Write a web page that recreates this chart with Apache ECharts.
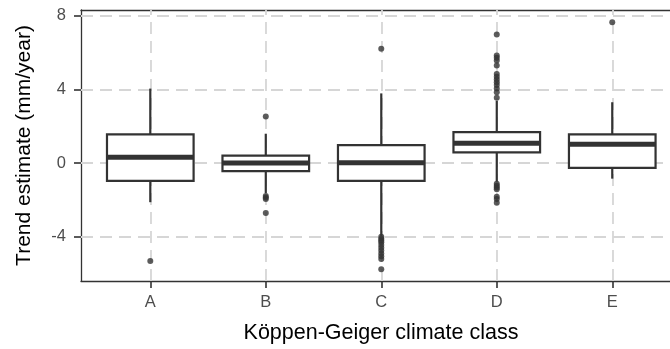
<!DOCTYPE html>
<html>
<head>
<meta charset="utf-8">
<script src="https://cdn.jsdelivr.net/npm/echarts@6/dist/echarts.min.js"></script>
<style>
  html, body { margin: 0; padding: 0; background: #fff; }
  #chart { width: 670px; height: 349px; }
</style>
</head>
<body>
<div id="chart"></div>
<script>
// Climate classes on the x axis
const categories = ['A', 'B', 'C', 'D', 'E'];

// Box statistics per class (mm/year)
const whiskerLow  = [-2.12, -1.62, -3.95, -1.00, -0.84];
const q1          = [-0.96, -0.43, -0.96,  0.59, -0.25];
const median      = [ 0.32,  0.01,  0.02,  1.08,  1.03];
const q3          = [ 1.56,  0.41,  0.98,  1.69,  1.56];
const whiskerHigh = [ 4.05,  1.60,  3.79,  3.38,  3.31];

// Points beyond the whiskers, one list per class
const outliers = [
  [-5.32],
  [2.54, -1.78, -1.86, -1.94, -2.70],
  [6.22, -4.00, -4.10, -4.20, -4.30, -4.45, -4.60, -4.75, -4.90, -5.05, -5.20, -5.76],
  [6.99, 5.85, 5.72, 5.58, 5.30, 4.85, 4.70, 4.55, 4.40, 4.25, 4.05, 3.85, 3.55,
   -1.12, -1.22, -1.32, -1.42, -1.82, -1.95, -2.15],
  [7.66]
];

// Tick values on the y axis
const yTicks = [-4, 0, 4, 8];

const FONT = '"Liberation Sans", Arial, sans-serif';
const INK = '#333333';

const boxData = categories.map((c, i) =>
  [i + 1, whiskerLow[i], q1[i], median[i], q3[i], whiskerHigh[i]]);

const pointData = [];
outliers.forEach((list, i) => list.forEach(v => pointData.push([i + 1, v])));

const catPositions = categories.map((c, i) => i + 1);

function renderBox(params, api) {
  const x = api.value(0);
  const pLow = api.coord([x, api.value(1)]);
  const pQ1 = api.coord([x, api.value(2)]);
  const pMed = api.coord([x, api.value(3)]);
  const pQ3 = api.coord([x, api.value(4)]);
  const pHigh = api.coord([x, api.value(5)]);
  const w = api.size([0.75, 0])[0];
  const cx = pMed[0];
  const stroke = { stroke: INK, lineWidth: 2.2, fill: null };
  return {
    type: 'group',
    children: [
      { type: 'line', shape: { x1: cx, y1: pHigh[1], x2: cx, y2: pQ3[1] }, style: stroke },
      { type: 'line', shape: { x1: cx, y1: pQ1[1], x2: cx, y2: pLow[1] }, style: stroke },
      { type: 'rect', shape: { x: cx - w / 2, y: pQ3[1], width: w, height: pQ1[1] - pQ3[1] },
        style: { stroke: INK, lineWidth: 2.2, fill: '#ffffff' } },
      { type: 'line', shape: { x1: cx - w / 2, y1: pMed[1], x2: cx + w / 2, y2: pMed[1] },
        style: { stroke: INK, lineWidth: 5 } }
    ]
  };
}

const chart = echarts.init(document.getElementById('chart'), null, { renderer: 'canvas' });

const borderLine = { show: true, onZero: false, lineStyle: { color: INK, width: 1.3 } };

chart.setOption({
  animation: false,
  backgroundColor: '#ffffff',
  grid: {
    left: 81, top: 10, right: 0, height: 276,
    show: false,
    containLabel: false
  },
  xAxis: [
    {
      type: 'value',
      position: 'bottom',
      min: 0.4, max: 5.5,
      name: 'Köppen-Geiger climate class',
      nameLocation: 'middle',
      nameGap: 41,
      nameTextStyle: { fontFamily: FONT, fontSize: 21.5, color: '#000000',
                       padding: [0, 0, 0, 11] },
      axisLine: borderLine,
      axisTick: { show: true, customValues: catPositions, length: 7,
                  lineStyle: { color: INK, width: 1.6 } },
      axisLabel: { customValues: catPositions, margin: 13,
                   fontFamily: FONT, fontSize: 16.5, color: '#4d4d4d',
                   formatter: v => categories[Math.round(v) - 1] || '' },
      splitLine: { show: false }
    },
    {
      // top edge of the panel
      type: 'value',
      position: 'top',
      min: 0.4, max: 5.5,
      axisLine: borderLine,
      axisTick: { show: false },
      axisLabel: { show: false },
      splitLine: { show: false }
    }
  ],
  yAxis: {
    type: 'value',
    min: -6.4, max: 8.32,
    name: 'Trend estimate (mm/year)',
    nameLocation: 'middle',
    nameGap: 46,
    nameTextStyle: { fontFamily: FONT, fontSize: 21, color: '#000000' },
    axisLine: borderLine,
    axisTick: { show: true, customValues: yTicks, length: 7,
                lineStyle: { color: INK, width: 1.6 } },
    axisLabel: { customValues: yTicks, margin: 15,
                 fontFamily: FONT, fontSize: 16.5, color: '#4d4d4d' },
    splitLine: { show: false }
  },
  series: [
    {
      // dashed panel grid at the ticks and class positions
      type: 'scatter',
      data: [],
      z: 1,
      silent: true,
      markLine: {
        z: 1,
        silent: true,
        symbol: 'none',
        label: { show: false },
        lineStyle: { color: '#d6d6d6', width: 1.8, type: [12, 7] },
        emphasis: { disabled: true },
        data: yTicks.map(v => ({ yAxis: v })).concat(catPositions.map(v => ({ xAxis: v })))
      }
    },
    {
      type: 'custom',
      z: 10,
      renderItem: renderBox,
      data: boxData,
      encode: { x: 0, y: [1, 2, 3, 4, 5] }
    },
    {
      type: 'scatter',
      z: 11,
      symbol: 'circle',
      symbolSize: 6,
      itemStyle: { color: INK },
      data: pointData
    }
  ]
});
</script>
</body>
</html>
